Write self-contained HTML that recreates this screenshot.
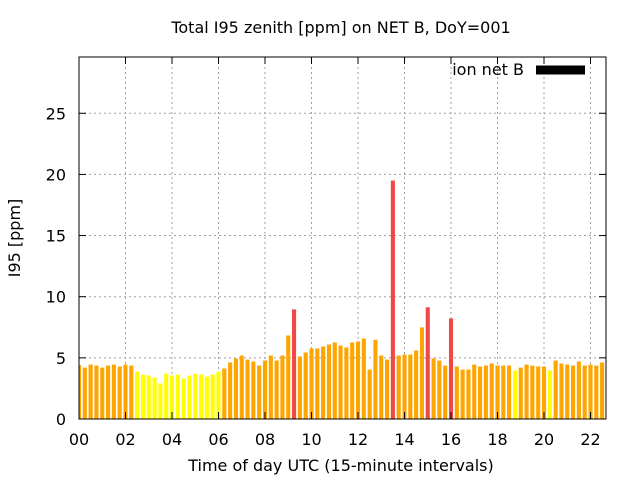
<!DOCTYPE html>
<html><head><meta charset="utf-8"><style>
body{margin:0;background:#fff}
svg{display:block;font-family:"DejaVu Sans","Liberation Sans",sans-serif}
</style></head><body>
<svg id="c" width="640" height="480" viewBox="0 0 640 480">
<text x="341" y="33" text-anchor="middle" font-size="16">Total I95 zenith [ppm] on NET B, DoY=001</text>
<text x="341" y="471" text-anchor="middle" font-size="16">Time of day UTC (15-minute intervals)</text>
<text transform="translate(20,238) rotate(-90)" text-anchor="middle" font-size="16">I95 [ppm]</text>
<g id="grid"></g><g id="bars"></g><g id="axes"></g>
<text x="524" y="75" text-anchor="end" font-size="16">ion net B</text>
<line x1="536" y1="70" x2="585" y2="70" stroke="#000" stroke-width="9"/>
</svg>
<script>
const values=[4.4,4.2,4.45,4.37,4.2,4.37,4.45,4.29,4.45,4.37,
3.88,3.63,3.55,3.39,2.9,3.72,3.55,3.63,3.3,3.55,3.72,3.63,3.47,3.63,3.88,
4.13,4.62,4.95,5.19,4.86,4.7,4.37,4.78,5.19,4.78,5.19,6.83,8.96,5.11,5.44,
5.77,5.77,5.93,6.09,6.26,6.01,5.85,6.26,6.34,6.58,4.04,6.48,5.19,4.86,19.5,
5.19,5.27,5.27,5.6,7.49,9.13,4.95,4.78,4.37,8.22,4.29,4.04,4.04,4.45,4.29,
4.37,4.54,4.37,4.37,4.37,3.96,4.2,4.45,4.37,4.29,4.29,3.98,4.78,4.54,4.45,
4.37,4.7,4.37,4.45,4.37,4.62,4.62];
const yTicks=[0,5,10,15,20,25];
const xTicks=["00","02","04","06","08","10","12","14","16","18","20","22"];
const X0=79,X1=606,Y0=419,Y1=57,YMAX=29.6,HMAX=(606-79)/23.25;
const sx=h=>X0+h/HMAX*(X1-X0);
const sy=v=>Y0-v/YMAX*(Y0-Y1);
const NS="http://www.w3.org/2000/svg";
function mk(t,a,p){const e=document.createElementNS(NS,t);for(const k in a)e.setAttribute(k,a[k]);p.appendChild(e);return e;}
const grid=document.getElementById('grid'),bars=document.getElementById('bars'),axes=document.getElementById('axes');
const clip=mk('clipPath',{id:'pc'},document.getElementById('c'));
mk('rect',{x:X0,y:Y1,width:X1-X0,height:Y0-Y1},clip);
bars.setAttribute('clip-path','url(#pc)');
yTicks.forEach(v=>{
  const y=sy(v);
  if(v>0){const g=mk('line',{x1:X0,x2:X1,y1:y,y2:y,stroke:'#a0a0a0','stroke-dasharray':'2,3'},grid);
  
  }
  mk('line',{x1:X0,x2:X0+7,y1:y,y2:y,stroke:'#000'},axes);
  mk('line',{x1:X1-7,x2:X1,y1:y,y2:y,stroke:'#000'},axes);
  const t=mk('text',{x:X0-13,y:y+6,'text-anchor':'end','font-size':'16'},axes);
  t.textContent=v;
  
  
});
xTicks.forEach((lab,i)=>{
  const x=sx(i*2);
  if(i>0){const g=mk('line',{x1:x,x2:x,y1:Y1,y2:Y0,stroke:'#a0a0a0','stroke-dasharray':'2,3'},grid);
  
  }
  mk('line',{x1:x,x2:x,y1:Y0,y2:Y0-7,stroke:'#000'},axes);
  mk('line',{x1:x,x2:x,y1:Y1,y2:Y1+7,stroke:'#000'},axes);
  const t=mk('text',{x:x,y:Y0+26,'text-anchor':'middle','font-size':'16'},axes);
  t.textContent=lab;
  
  
});
values.forEach((v,i)=>{
  const cx=sx(i*0.25),w=4.1;
  const col=v>=8?'#f04848':(v<4?'#ffff00':'#ffa500');
  const r=mk('rect',{x:cx-w/2,y:sy(v),width:w,height:Y0-sy(v),fill:col},bars);
  
  
});
const b=mk('rect',{x:X0,y:Y1,width:X1-X0,height:Y0-Y1,fill:'none',stroke:'#000','stroke-width':1},axes);


</script>
</body></html>
